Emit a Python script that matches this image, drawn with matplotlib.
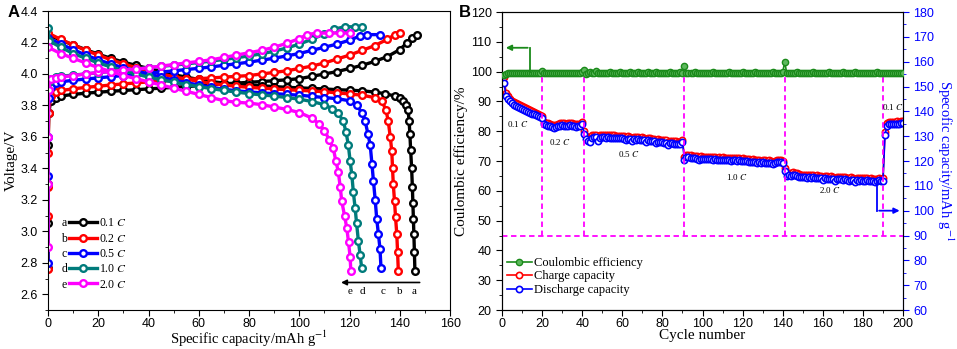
import numpy as np
import matplotlib.pyplot as plt
from matplotlib.ticker import MultipleLocator

plt.rcParams['mathtext.fontset'] = 'stix'
SANS = 'Liberation Sans'
SERIF = 'Liberation Serif'

# ---------------- panel A: charge / discharge curves ----------------
rates = ['0.1 $C$', '0.2 $C$', '0.5 $C$', '1.0 $C$', '2.0 $C$']
letters = ['a', 'b', 'c', 'd', 'e']
colors_a = ['black', '#ff0000', '#0000ff', '#007b7b', '#ff00ff']

chg_cap = [
    [0, 0, 0, 0, 0.3, 1, 3, 5, 10, 15, 20, 25, 30, 35, 40, 45, 50, 55, 60, 65, 70, 75, 80, 85,
     90, 95, 100, 105, 110, 115, 120, 125, 130, 135, 140, 143, 145, 147],
    [0, 0, 0, 0, 0.3, 1, 3, 5, 10, 15, 20, 25, 30, 35, 40, 45, 50, 55, 60, 65, 70, 75, 80, 85,
     90, 95, 100, 105, 110, 115, 120, 125, 130, 135, 138, 140],
    [0, 0, 0, 0.3, 1, 3, 5, 10, 15, 20, 25, 30, 35, 40, 45, 50, 55, 60, 65, 70, 75, 80, 85,
     90, 95, 100, 105, 110, 115, 120, 124, 127, 132],
    [0, 0.3, 1, 3, 5, 10, 15, 20, 25, 30, 35, 40, 45, 50, 55, 60, 65, 70, 75, 80, 85,
     90, 95, 100, 105, 110, 114, 118, 122, 125],
    [0, 0, 0, 0.3, 1, 3, 5, 10, 15, 20, 25, 30, 35, 40, 45, 50, 55, 60, 65, 70, 75, 80, 85,
     90, 95, 100, 103, 107, 112, 116, 120],
]
chg_v = [
    [2.77, 3.05, 3.3, 3.55, 3.75, 3.83, 3.85, 3.86, 3.87, 3.878, 3.884, 3.89, 3.895, 3.90, 3.905,
     3.91, 3.915, 3.92, 3.925, 3.93, 3.937, 3.942, 3.947, 3.952, 3.957, 3.963, 3.97, 3.985, 4.0,
     4.015, 4.035, 4.055, 4.08, 4.11, 4.155, 4.2, 4.23, 4.25],
    [2.76, 3.1, 3.28, 3.5, 3.75, 3.86, 3.885, 3.895, 3.905, 3.915, 3.922, 3.93, 3.937, 3.943,
     3.95, 3.955, 3.96, 3.965, 3.97, 3.975, 3.98, 3.985, 3.99, 4.0, 4.01, 4.02, 4.035, 4.05,
     4.07, 4.095, 4.12, 4.15, 4.18, 4.22, 4.25, 4.26],
    [2.8, 3.35, 3.6, 3.85, 3.92, 3.94, 3.95, 3.96, 3.968, 3.975, 3.983, 3.99, 3.998, 4.005,
     4.012, 4.02, 4.028, 4.036, 4.045, 4.055, 4.065, 4.075, 4.088, 4.10, 4.115, 4.13, 4.15,
     4.17, 4.19, 4.215, 4.24, 4.25, 4.25],
    [3.9, 3.95, 3.97, 3.98, 3.985, 3.993, 4.0, 4.008, 4.016, 4.024, 4.032, 4.04, 4.048, 4.056,
     4.064, 4.073, 4.082, 4.092, 4.103, 4.115, 4.128, 4.145, 4.165, 4.19, 4.22, 4.255, 4.285,
     4.3, 4.3, 4.3],
    [2.9, 3.3, 3.6, 3.9, 3.965, 3.975, 3.98, 3.99, 4.0, 4.01, 4.015, 4.025, 4.03, 4.04, 4.05,
     4.06, 4.07, 4.08, 4.09, 4.105, 4.12, 4.135, 4.15, 4.17, 4.195, 4.225, 4.25, 4.26, 4.26,
     4.26, 4.26],
]

dis_cap = [
    [0, 5, 10, 15, 20, 25, 30, 35, 40, 45, 50, 55, 60, 65, 70, 75, 80, 85, 90, 95, 100, 105,
     110, 115, 120, 125, 130, 134, 138, 140, 141.3, 142.5, 143.3, 143.7, 144, 144.3, 144.7, 145,
     145.2, 145.4, 145.6, 145.8, 146],
    [0, 5, 10, 15, 20, 25, 30, 35, 40, 45, 50, 55, 60, 65, 70, 75, 80, 85, 90, 95, 100, 105,
     110, 115, 120, 125, 130, 132.8, 134.5, 135.4, 136.2, 136.8, 137.1, 137.4, 137.9, 138.3,
     138.8, 139.1, 139.4],
    [0, 5, 10, 15, 20, 25, 30, 35, 40, 45, 50, 55, 60, 65, 70, 75, 80, 85, 90, 95, 100, 105,
     110, 115, 120, 123, 125, 126.2, 127.3, 128.2, 128.9, 129.5, 130.2, 130.8, 131.5, 132.1,
     132.5],
    [0, 0.5, 5, 10, 15, 20, 25, 30, 35, 40, 45, 50, 55, 60, 65, 70, 75, 80, 85, 90, 95, 100,
     105, 110, 113, 115.5, 117.5, 118.6, 119.5, 120.2, 120.9, 121.5, 122.2, 122.8, 123.5, 124.2,
     124.8],
    [0, 5, 10, 15, 20, 25, 30, 35, 40, 45, 50, 55, 60, 65, 70, 75, 80, 85, 90, 95, 100, 105,
     108, 110, 112, 113.5, 114.5, 115.5, 116.3, 116.9, 118, 118.9, 119.6, 120.2, 120.5],
]
dis_v = [
    [4.25, 4.215, 4.185, 4.155, 4.125, 4.1, 4.075, 4.055, 4.035, 4.015, 3.995, 3.98, 3.965,
     3.952, 3.942, 3.935, 3.93, 3.925, 3.92, 3.915, 3.912, 3.908, 3.905, 3.9, 3.897, 3.893,
     3.885, 3.875, 3.86, 3.845, 3.83, 3.80, 3.77, 3.70, 3.62, 3.52, 3.40, 3.28, 3.18, 3.08,
     2.98, 2.87, 2.75],
    [4.26, 4.22, 4.185, 4.15, 4.12, 4.09, 4.065, 4.04, 4.02, 4.0, 3.983, 3.967, 3.953, 3.94,
     3.93, 3.922, 3.915, 3.91, 3.905, 3.9, 3.896, 3.892, 3.887, 3.88, 3.873, 3.865, 3.85, 3.83,
     3.77, 3.70, 3.60, 3.51, 3.40, 3.30, 3.19, 3.09, 2.98, 2.87, 2.75],
    [4.23, 4.19, 4.155, 4.12, 4.09, 4.063, 4.04, 4.02, 4.0, 3.98, 3.962, 3.945, 3.93, 3.915,
     3.903, 3.893, 3.886, 3.88, 3.875, 3.87, 3.865, 3.858, 3.85, 3.843, 3.83, 3.80, 3.75, 3.70,
     3.62, 3.55, 3.43, 3.32, 3.20, 3.08, 2.98, 2.89, 2.77],
    [4.29, 4.21, 4.17, 4.13, 4.1, 4.07, 4.045, 4.02, 4.0, 3.98, 3.963, 3.948, 3.933, 3.92,
     3.907, 3.895, 3.885, 3.875, 3.867, 3.86, 3.85, 3.84, 3.825, 3.805, 3.78, 3.75, 3.70, 3.63,
     3.55, 3.45, 3.36, 3.25, 3.15, 3.05, 2.94, 2.85, 2.77],
    [4.17, 4.13, 4.1, 4.07, 4.04, 4.015, 3.99, 3.97, 3.95, 3.93, 3.91, 3.89, 3.87, 3.85, 3.83,
     3.82, 3.815, 3.805, 3.79, 3.775, 3.755, 3.72, 3.68, 3.64, 3.58, 3.53, 3.45, 3.38, 3.28,
     3.19, 3.1, 3.02, 2.93, 2.84, 2.75],
]

# ---------------- panel B: cycling ----------------
cycles = np.arange(1, 201)
ce = [98.9, 99.3, 99.4, 99.5, 99.5, 99.6, 99.5, 99.6, 99.6, 99.5, 99.6, 99.7, 99.6, 99.6, 99.7, 99.6, 99.7, 99.6, 99.7, 100.2,
      99.6, 99.5, 99.6, 99.7, 99.6, 99.5, 99.6, 99.7, 99.6, 99.5, 99.6, 99.6, 99.7, 99.6, 99.5, 99.6, 99.7, 99.6, 99.6, 100.0,
      100.4, 99.3, 99.6, 99.8, 99.5, 99.4, 100.1, 99.6, 99.5, 99.7, 99.6, 99.5, 99.7, 99.8, 99.6, 99.5, 99.7, 99.6, 99.8, 99.6,
      99.5, 99.7, 99.6, 99.8, 99.5, 99.6, 99.7, 99.9, 99.6, 99.5, 99.7, 99.6, 99.8, 99.6, 99.5, 99.7, 99.8, 99.6, 99.7, 99.6,
      99.5, 99.7, 99.6, 99.8, 99.6, 99.7, 99.5, 99.6, 99.8, 99.6, 101.8, 99.5, 99.6, 99.7, 99.6, 99.8, 99.5, 99.6, 99.7, 99.6,
      99.7, 99.6, 99.5, 99.7, 99.8, 99.6, 99.6, 99.7, 99.5, 99.6, 99.7, 99.6, 99.8, 99.6, 99.5, 99.7, 99.6, 99.6, 99.7, 99.8,
      99.6, 99.5, 99.7, 99.6, 99.6, 99.8, 99.7, 99.5, 99.6, 99.7, 99.6, 99.5, 99.7, 99.6, 99.8, 99.6, 99.5, 99.7, 99.6, 99.8,
      103.3, 99.4, 99.6, 99.5, 99.7, 99.6, 99.8, 99.6, 99.5, 99.7, 99.6, 99.5, 99.7, 99.6, 99.8, 99.6, 99.5, 99.7, 99.6, 99.6,
      99.7, 99.6, 99.8, 99.6, 99.5, 99.7, 99.6, 99.6, 99.7, 99.8, 99.6, 99.5, 99.7, 99.6, 99.6, 99.8, 99.6, 99.5, 99.7, 99.6,
      99.6, 99.7, 99.6, 99.5, 99.7, 99.6, 99.8, 99.6, 99.5, 99.7, 99.4, 99.6, 99.5, 99.4, 99.5, 99.4, 99.5, 99.4, 99.5, 99.4]

charge = [154.0, 147.5, 146.0, 145.0, 144.3, 143.7, 143.2, 142.8, 142.4, 142.0, 141.6, 141.2, 140.8, 140.5, 140.1, 139.8, 139.4, 139.0, 138.7, 138.3,
          135.8, 135.5, 135.2, 135.0, 134.7, 134.5, 134.7, 135.0, 135.2, 135.3, 135.2, 135.1, 135.2, 135.3, 135.2, 135.0, 134.9, 134.9, 135.0, 135.6,
          132.0, 130.0, 129.4, 129.2, 130.3, 130.6, 130.5, 129.5, 130.4, 130.5, 130.4, 130.4, 130.5, 130.4, 130.3, 130.3, 130.2, 130.2, 130.1, 130.1,
          130.0, 129.7, 129.9, 129.8, 129.4, 129.7, 129.6, 129.6, 129.4, 129.5, 129.3, 128.9, 129.2, 129.1, 128.9, 128.9, 128.5, 128.7, 128.6, 128.6,
          128.3, 128.3, 127.8, 128.1, 128.0, 127.9, 127.9, 127.8, 127.8, 128.3, 121.5, 122.4, 122.5, 122.3, 122.2, 122.2, 122.0, 121.7, 121.9, 121.8,
          121.8, 121.8, 121.7, 121.7, 121.6, 121.6, 121.4, 121.5, 121.4, 121.5, 121.4, 121.4, 121.3, 121.1, 121.3, 121.2, 121.1, 121.3, 121.0, 121.1,
          120.9, 121.0, 120.7, 120.5, 120.7, 120.5, 120.4, 120.6, 120.2, 120.4, 120.3, 120.0, 120.3, 120.1, 119.8, 120.2, 120.4, 120.5, 120.4, 119.9,
          117.0, 115.0, 115.3, 115.1, 115.4, 115.2, 115.0, 114.7, 114.5, 114.5, 114.4, 114.3, 114.4, 114.2, 114.3, 114.1, 114.2, 114.0, 114.1, 113.6,
          113.9, 113.8, 113.6, 113.8, 113.7, 113.1, 113.7, 113.5, 113.6, 113.4, 113.5, 113.3, 113.0, 113.4, 113.2, 112.7, 113.1, 113.0, 113.2, 113.0,
          113.0, 113.1, 112.9, 113.0, 112.8, 112.6, 112.9, 113.1, 112.9, 113.0, 131.5, 135.2, 135.7, 135.9, 135.8, 135.9, 136.0, 135.9, 136.1, 136.3]

discharge = [151.5, 146.0, 145.0, 144.0, 143.3, 142.7, 142.2, 141.8, 141.4, 141.0, 140.6, 140.2, 139.8, 139.5, 139.1, 138.8, 138.4, 138.0, 137.6, 137.2,
             134.8, 134.5, 134.2, 134.0, 133.6, 133.3, 133.5, 134.0, 134.2, 134.3, 134.2, 134.0, 134.1, 134.3, 134.2, 134.0, 133.8, 133.9, 134.0, 135.0,
             131.0, 128.8, 128.2, 127.8, 129.4, 129.7, 129.6, 128.0, 129.4, 129.5, 129.5, 129.4, 129.5, 129.4, 129.3, 129.4, 129.2, 129.3, 129.1, 129.2,
             129.0, 128.6, 129.0, 128.8, 128.2, 128.8, 128.6, 128.7, 128.4, 128.6, 128.3, 127.7, 128.3, 128.2, 127.9, 128.0, 127.3, 127.8, 127.6, 127.7,
             127.3, 127.4, 126.6, 127.2, 127.1, 126.9, 127.0, 126.8, 126.9, 127.6, 120.3, 121.5, 121.6, 121.4, 121.2, 121.3, 121.0, 120.6, 121.0, 120.9,
             120.8, 120.9, 120.7, 120.8, 120.6, 120.7, 120.4, 120.6, 120.5, 120.6, 120.4, 120.5, 120.3, 120.1, 120.4, 120.3, 120.2, 120.4, 120.1, 120.2,
             119.9, 120.1, 119.7, 119.5, 119.8, 119.6, 119.4, 119.7, 119.2, 119.5, 119.3, 119.0, 119.4, 119.2, 118.7, 119.3, 119.5, 119.6, 119.6, 119.0,
             116.0, 113.8, 114.3, 114.0, 114.5, 114.3, 114.1, 113.6, 113.4, 113.5, 113.4, 113.3, 113.5, 113.2, 113.4, 113.1, 113.3, 113.0, 113.2, 112.5,
             113.0, 112.8, 112.6, 112.9, 112.7, 112.0, 112.8, 112.6, 112.7, 112.5, 112.6, 112.4, 112.0, 112.5, 112.3, 111.6, 112.2, 112.0, 112.3, 112.1,
             112.0, 112.2, 111.9, 112.1, 111.8, 111.6, 112.0, 112.2, 111.9, 112.0, 130.5, 134.2, 134.8, 135.0, 134.9, 135.0, 135.1, 135.0, 135.2, 135.3]

step_cycles = [20, 41, 91, 141, 190]
step_labels = ['0.1 $C$', '0.2 $C$', '0.5 $C$', '1.0 $C$', '2.0 $C$', '0.1 $C$']
step_label_x = [8, 29, 63, 117, 163.5, 195]
step_label_y = [82.4, 76.5, 72.3, 64.7, 60.3, 88.0]

green = '#1a8a1a'
magenta = '#ff00ff'
blue = '#0000ff'
red = '#ff0000'

fig = plt.figure(figsize=(9.57, 3.49), dpi=100)
axA = fig.add_axes([0.0502, 0.1117, 0.4201, 0.8567])
axB = fig.add_axes([0.5246, 0.1117, 0.4190, 0.8539])

handles = []
for i in range(5):
    h, = axA.plot(chg_cap[i], chg_v[i], '-o', color=colors_a[i], lw=2.4, ms=4.8,
                  mfc='white', mec=colors_a[i], mew=1.7)
    axA.plot(dis_cap[i], dis_v[i], '-o', color=colors_a[i], lw=2.4, ms=4.8,
             mfc='white', mec=colors_a[i], mew=1.7)
    handles.append(h)

axA.set_xlim(0, 160)
axA.set_ylim(2.5, 4.4)
axA.xaxis.set_major_locator(MultipleLocator(20))
axA.xaxis.set_minor_locator(MultipleLocator(10))
axA.yaxis.set_major_locator(MultipleLocator(0.2))
axA.yaxis.set_minor_locator(MultipleLocator(0.1))
axA.yaxis.set_major_formatter(plt.FormatStrFormatter('%.1f'))
axA.tick_params(which='both', direction='out', labelsize=9)
axA.tick_params(which='major', length=4)
axA.tick_params(which='minor', length=2.5)
axA.tick_params(axis='x', pad=2)
for lab in axA.get_xticklabels() + axA.get_yticklabels():
    lab.set_fontfamily(SANS)
axA.set_xlabel('Specific capacity/mAh g$^{-1}$', fontfamily=SERIF, fontsize=10.5, labelpad=-1)
axA.set_ylabel('Voltage/V', fontfamily=SERIF, fontsize=11, labelpad=2)

legA = axA.legend(handles, rates, loc='upper left', bbox_to_anchor=(0.052, 0.31),
                  frameon=False, prop={'family': SERIF, 'size': 8.5}, numpoints=1,
                  handlelength=2.4, handletextpad=0.15, labelspacing=0.28,
                  borderpad=0, borderaxespad=0)
fig.canvas.draw()
inv = axA.transAxes.inverted()
for t, letter in zip(legA.get_texts(), letters):
    bb = t.get_window_extent()
    yc = inv.transform((0, (bb.y0 + bb.y1) / 2))[1]
    axA.text(0.04, yc, letter, transform=axA.transAxes, ha='center', va='center',
             fontfamily=SERIF, fontsize=8.5)

axA.annotate('', xy=(115.5, 2.675), xytext=(149, 2.675),
             arrowprops=dict(arrowstyle='-|>', color='black', lw=1.2, mutation_scale=8))
for letter, xpos in zip(['e', 'd', 'c', 'b', 'a'], [120, 125.3, 133.5, 140, 145.8]):
    axA.text(xpos, 2.615, letter, ha='center', va='center', fontfamily=SERIF, fontsize=8)

fig.text(0.008, 0.965, 'A', fontfamily=SANS, fontweight='bold', fontsize=12, va='center')
fig.text(0.480, 0.965, 'B', fontfamily=SANS, fontweight='bold', fontsize=12, va='center')

# ---- panel B ----
axR = axB.twinx()
axB.set_zorder(axR.get_zorder() + 1)
axB.patch.set_visible(False)

hce, = axB.plot(cycles, ce, '-o', color=green, lw=1.2, ms=4.5, mfc='#5cb85c', mec=green,
                mew=1.0, label='Coulombic efficiency', zorder=3)
hch, = axR.plot(cycles, charge, '-o', color=red, lw=1.2, ms=4.5, mfc='white', mec=red,
                mew=1.2, label='Charge capacity')
hdc, = axR.plot(cycles, discharge, '-o', color=blue, lw=1.2, ms=4.5, mfc='white', mec=blue,
                mew=1.2, label='Discharge capacity')

for c in step_cycles:
    axB.plot([c, c], [45, 100], color=magenta, lw=1.3, ls=(0, (3, 2)), zorder=2)
axB.axhline(45, color=magenta, lw=1.3, ls=(0, (3, 2)), zorder=2)

for s, x, y in zip(step_labels, step_label_x, step_label_y):
    axB.text(x, y, s, ha='center', va='center', fontfamily=SERIF, fontsize=6.5, zorder=4)

axB.plot([14, 14], [99.8, 108], color=green, lw=1.3, zorder=4)
axB.annotate('', xy=(0.5, 108), xytext=(14.2, 108),
             arrowprops=dict(arrowstyle='-|>', color=green, lw=1.3, mutation_scale=8), zorder=4)
axR.plot([186.9, 186.9], [112, 100], color=blue, lw=1.3)
axR.annotate('', xy=(199.7, 100), xytext=(186.7, 100),
             arrowprops=dict(arrowstyle='-|>', color=blue, lw=1.3, mutation_scale=8))

axB.set_xlim(0, 200)
axB.set_ylim(20, 120)
axR.set_ylim(60, 180)
axB.xaxis.set_major_locator(MultipleLocator(20))
axB.xaxis.set_minor_locator(MultipleLocator(10))
axB.yaxis.set_major_locator(MultipleLocator(10))
axB.yaxis.set_minor_locator(MultipleLocator(5))
axR.yaxis.set_major_locator(MultipleLocator(10))
axR.yaxis.set_minor_locator(MultipleLocator(5))
for ax in (axB, axR):
    ax.tick_params(which='both', direction='out', labelsize=9)
    ax.tick_params(which='major', length=4)
    ax.tick_params(which='minor', length=2.5)
axB.tick_params(axis='x', pad=2)
axR.tick_params(which='both', colors=blue)
axR.spines['right'].set_color(blue)
for lab in axB.get_xticklabels() + axB.get_yticklabels() + axR.get_yticklabels():
    lab.set_fontfamily(SANS)
axB.set_xlabel('Cycle number', fontfamily=SERIF, fontsize=11, labelpad=-1)
axB.set_ylabel('Coulombic efficiency/%', fontfamily=SERIF, fontsize=11, labelpad=2)
axR.set_ylabel('Specofic capacity/mAh g$^{-1}$', fontfamily=SERIF, fontsize=10.5, color=blue,
               rotation=270, labelpad=15)

axB.legend([hce, hch, hdc], [hce.get_label(), hch.get_label(), hdc.get_label()],
           loc='upper left', bbox_to_anchor=(0.012, 0.178), frameon=False,
           prop={'family': SERIF, 'size': 9}, numpoints=1, handlelength=2.0,
           handletextpad=0.2, labelspacing=0.12, borderpad=0, borderaxespad=0)

fig.savefig('out.png', dpi=100)
